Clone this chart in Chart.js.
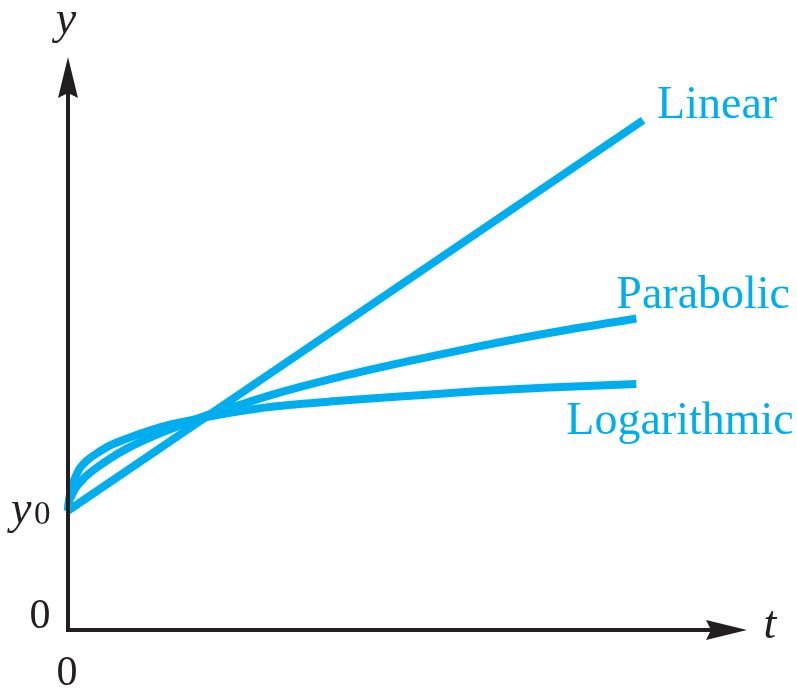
<!DOCTYPE html>
<html>
<head>
<meta charset="utf-8">
<script src="https://cdn.jsdelivr.net/npm/chart.js@4"></script>
<style>
  html, body { margin: 0; padding: 0; background: #fff; }
  canvas { display: block; }
</style>
</head>
<body>
<canvas id="growthChart" width="797" height="692"></canvas>
<script>
const curveColor = '#00aeef';
const axisColor = '#231f20';
const serif = '"Liberation Serif", "Times New Roman", serif';

// readings of the three growth curves (t, y), y0 = 1
const tLinear = [0, 8.47];
const yLinear = [1.0, 4.27];
const tParabolic = [0, 0.01, 0.05, 0.1, 0.25, 0.4, 0.6, 0.9, 1.2, 1.5, 2, 2.5, 3, 4, 5, 6, 7, 8.37];
const yParabolic = [1.0, 1.06, 1.12, 1.18, 1.28, 1.35, 1.43, 1.53, 1.61, 1.68, 1.79, 1.88, 1.97, 2.12, 2.25, 2.37, 2.48, 2.61];
const tLog = [0, 0.01, 0.03, 0.06, 0.1, 0.18, 0.28, 0.4, 0.6, 0.9, 1.2, 1.5, 2, 2.5, 3, 4, 5, 6, 7, 8.37];
const yLog = [1.0, 1.06, 1.14, 1.21, 1.27, 1.36, 1.42, 1.47, 1.54, 1.61, 1.67, 1.72, 1.78, 1.83, 1.87, 1.92, 1.96, 2.0, 2.03, 2.06];
const curveNames = ['Linear', 'Parabolic', 'Logarithmic'];
const y0Value = 1.0;

const toPoints = (ts, ys) => ts.map((t, i) => ({ x: t, y: ys[i] }));

function curve(name, ts, ys) {
  return {
    label: name,
    data: toPoints(ts, ys),
    borderColor: curveColor,
    backgroundColor: curveColor,
    borderWidth: 8,
    pointRadius: 0,
    cubicInterpolationMode: 'monotone',
    clip: 6,
  };
}

// where each curve name sits relative to the curve's last point
const nameOffsets = [[14, -2], [-20, -10], [-70, 50]];

const axesPlugin = {
  id: 'axesAndLabels',
  afterDatasetsDraw(chart) {
    const { ctx, chartArea, scales: { x, y } } = chart;
    const ox = x.getPixelForValue(0);
    const oy = y.getPixelForValue(0);
    const top = chartArea.top;
    const right = chartArea.right;

    ctx.save();
    ctx.strokeStyle = axisColor;
    ctx.fillStyle = axisColor;
    ctx.lineWidth = 4;

    // vertical axis + arrow
    ctx.beginPath();
    ctx.moveTo(ox, oy + 2);
    ctx.lineTo(ox, top + 34);
    ctx.stroke();
    ctx.beginPath();
    ctx.moveTo(ox, top);
    ctx.lineTo(ox + 10, top + 41);
    ctx.lineTo(ox, top + 36);
    ctx.lineTo(ox - 10, top + 41);
    ctx.closePath();
    ctx.fill();

    // horizontal axis + arrow
    ctx.beginPath();
    ctx.moveTo(ox - 2, oy);
    ctx.lineTo(right - 34, oy);
    ctx.stroke();
    ctx.beginPath();
    ctx.moveTo(right, oy);
    ctx.lineTo(right - 41, oy - 10);
    ctx.lineTo(right - 36, oy);
    ctx.lineTo(right - 41, oy + 10);
    ctx.closePath();
    ctx.fill();

    // axis text
    ctx.textBaseline = 'alphabetic';
    ctx.textAlign = 'center';
    ctx.font = 'italic 46px ' + serif;
    ctx.fillText('y', ox - 2, top - 24);
    ctx.fillText('t', right + 23, oy + 8);
    ctx.font = '42px ' + serif;
    ctx.fillText('0', ox - 28, oy - 2);
    ctx.fillText('0', ox - 1, oy + 55);

    const y0px = y.getPixelForValue(y0Value);
    ctx.textAlign = 'left';
    ctx.font = 'italic 46px ' + serif;
    ctx.fillText('y', 11, y0px + 12);
    ctx.font = '33px ' + serif;
    ctx.fillText('0', 34, y0px + 13);

    // curve names
    ctx.fillStyle = curveColor;
    ctx.font = '46px ' + serif;
    chart.data.datasets.forEach((ds, i) => {
      const last = ds.data[ds.data.length - 1];
      const px = x.getPixelForValue(last.x) + nameOffsets[i][0];
      const py = y.getPixelForValue(last.y) + nameOffsets[i][1];
      ctx.fillText(curveNames[i], px, py);
    });
    ctx.restore();
  }
};

new Chart(document.getElementById('growthChart'), {
  type: 'line',
  data: {
    datasets: [
      curve(curveNames[0], tLinear, yLinear),
      curve(curveNames[1], tParabolic, yParabolic),
      curve(curveNames[2], tLog, yLog),
    ]
  },
  options: {
    responsive: false,
    devicePixelRatio: 1,
    animation: false,
    layout: { padding: { left: 68, right: 50, top: 57, bottom: 62 } },
    scales: {
      x: { type: 'linear', min: 0, max: 10, display: false },
      y: { type: 'linear', min: 0, max: 4.8, display: false }
    },
    plugins: {
      legend: { display: false },
      tooltip: { enabled: false },
      title: { display: false }
    }
  },
  plugins: [axesPlugin]
});
</script>
</body>
</html>
